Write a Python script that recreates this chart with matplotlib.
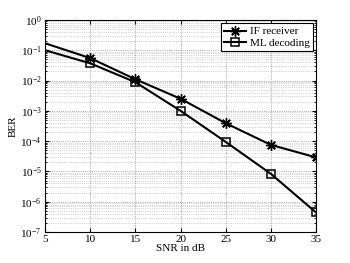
'''
BER vs SNR: IF receiver vs ML decoding
'''
import matplotlib
matplotlib.use('Agg')
import matplotlib.pyplot as plt
from matplotlib.ticker import LogLocator, NullFormatter

snr = [5, 10, 15, 20, 25, 30, 35]
ber_if = [0.17, 0.055, 0.011, 0.0025, 3.9e-4, 7.5e-5, 2.9e-5]
ber_ml = [0.10, 0.037, 0.0088, 0.001, 9.4e-5, 8.3e-6, 4.4e-7]
xticks = [5, 10, 15, 20, 25, 30, 35]

plt.rcParams['font.family'] = 'Liberation Serif'
plt.rcParams['mathtext.fontset'] = 'stix'
plt.rcParams['font.size'] = 8

fig = plt.figure(figsize=(3.5, 2.63), dpi=100)
ax = fig.add_axes([0.129, 0.118, 0.774, 0.806])

# MATLAB style asterisk marker (plus + cross)
ax.semilogy(snr, ber_if, 'k-', marker=(8, 2, 0), ms=7.5, mew=1.0, lw=1.5,
            markevery=slice(1, None), label='IF receiver')
ax.semilogy(snr, ber_ml, 'k-', marker='s', ms=5.5, mfc='none', mew=1.1, lw=1.5,
            markevery=slice(1, None), label='ML decoding')

ax.set_xlim(5, 35)
ax.set_ylim(1e-7, 1)
ax.set_xticks(xticks)
ax.yaxis.set_major_locator(LogLocator(base=10, numticks=10))
ax.yaxis.set_minor_locator(LogLocator(base=10, subs=range(2, 10), numticks=20))
ax.yaxis.set_minor_formatter(NullFormatter())

ax.grid(True, which='major', ls=':', color='#888888', lw=0.6)
ax.grid(True, which='minor', axis='y', ls=':', color='#aaaaaa', lw=0.5)
ax.tick_params(which='both', direction='in', top=True, right=True, length=3, pad=2.5)
ax.tick_params(which='minor', length=1.5)
for s in ax.spines.values():
  s.set_linewidth(0.8)

ax.set_xlabel('SNR in dB', labelpad=0)
ax.set_ylabel('BER')
ax.yaxis.set_label_coords(-0.1, 0.5)

leg = ax.legend(loc='upper right', fancybox=False, framealpha=1, edgecolor='k',
                borderpad=0.3, handlelength=2.0, handletextpad=0.3,
                labelspacing=0.15, borderaxespad=0.3, fontsize=8)
leg.get_frame().set_linewidth(0.8)

plt.savefig('out.png', dpi=100)
